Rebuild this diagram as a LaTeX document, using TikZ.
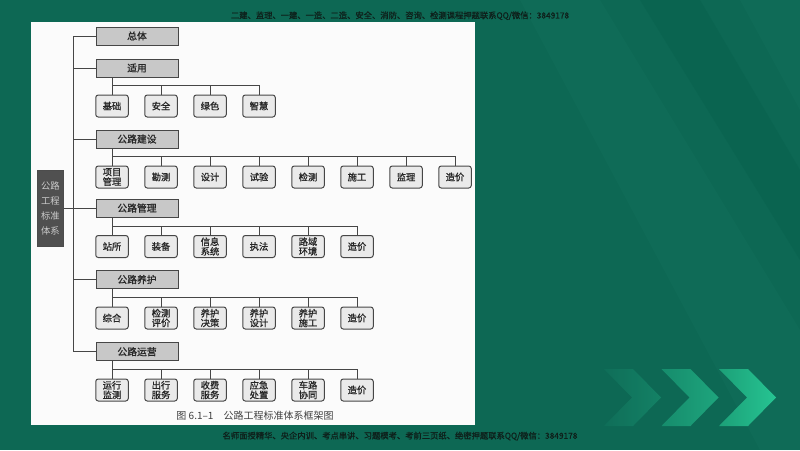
\documentclass[tikz,border=0pt]{standalone}
\usepackage{fontspec}
\setmainfont{Noto Sans CJK SC}
\newfontfamily\boxfont[AutoFakeBold=1.0]{Noto Sans CJK SC}
\newfontfamily\barfont[AutoFakeBold=0.9]{Noto Sans CJK SC}
\definecolor{bgteal}{RGB}{13,104,84}
\definecolor{bandlight}{RGB}{24,118,96}
\definecolor{banddark}{RGB}{6,94,74}
\definecolor{panel}{RGB}{251,251,251}
\definecolor{lvlfill}{RGB}{200,200,200}
\definecolor{childfill}{RGB}{234,234,234}
\definecolor{rootfill}{RGB}{80,80,80}
\definecolor{inkline}{RGB}{70,70,70}
\definecolor{toptext}{RGB}{14,32,27}
\tikzset{
  lvl/.style={draw=inkline, line width=0.9pt, fill=lvlfill, minimum width=82pt, minimum height=18pt, inner sep=0pt, text=black!85, font=\boxfont\fontsize{9.8}{10}\selectfont\bfseries},
  kid/.style={draw=inkline, line width=1pt, fill=childfill, rounded corners=2.5pt, minimum width=32.5pt, minimum height=22pt, inner sep=0pt, align=center, text=black!85, font=\boxfont\fontsize{9.3}{9.6}\selectfont\bfseries},
  rootbox/.style={draw=black!70, line width=0.8pt, fill=rootfill, minimum width=26pt, minimum height=76pt, inner sep=0pt, align=center, text=black!20, font=\boxfont\fontsize{9.3}{15}\selectfont},
  conn/.style={draw=inkline, line width=0.9pt},
  bartext/.style={text=toptext, font=\barfont\fontsize{8.3}{9}\selectfont\bfseries, inner sep=0pt}
}
\begin{document}
\begin{tikzpicture}[x=1pt,y=-1pt]
\useasboundingbox (0,0) rectangle (800,450);
% background
\fill[bgteal] (0,0) rectangle (800,450);
\fill[bandlight, opacity=0.25] (520,0) -- (600,0) -- (800,330) -- (800,450) -- (760,450) -- cycle;
\fill[banddark, opacity=0.35] (640,0) -- (700,0) -- (800,170) -- (800,260) -- cycle;
\fill[bandlight, opacity=0.25] (740,0) -- (800,0) -- (800,110) -- cycle;
% chevrons
\shade[left color={rgb,255:red,16;green,112;blue,90}, right color={rgb,255:red,22;green,136;blue,106}, opacity=0.8]
  (604,369) -- (633,369) -- (661,397.5) -- (633,426) -- (604,426) -- (632,397.5) -- cycle;
\shade[left color={rgb,255:red,22;green,140;blue,108}, right color={rgb,255:red,30;green,165;blue,125}]
  (661.5,369) -- (690.5,369) -- (718.5,397.5) -- (690.5,426) -- (661.5,426) -- (689.5,397.5) -- cycle;
\shade[left color={rgb,255:red,28;green,160;blue,120}, right color={rgb,255:red,38;green,196;blue,146}]
  (719,369) -- (748,369) -- (776,397.5) -- (748,426) -- (719,426) -- (747,397.5) -- cycle;
% header / footer text
\node[bartext] (toptxt) at (400,15.7) {二建、监理、一建、一造、二造、安全、消防、咨询、检测课程押题联系QQ/微信：3849178};
\node[bartext] (bottxt) at (400,436) {名师面授精华、央企内训、考点串讲、习题模考、考前三页纸、绝密押题联系QQ/微信：3849178};
% panel
\fill[panel] (31,22) rectangle (475,425);
% root
\node[rootbox] (root) at (50.3,208) {公路\\工程\\标准\\体系};
% level 1
\node[lvl] (zt) at (137,36) {总体};
\node[lvl] (sy) at (137,68) {适用};
\node[lvl] (js) at (137,139) {公路建设};
\node[lvl] (gl) at (137,208) {公路管理};
\node[lvl] (yh) at (137,279.5) {公路养护};
\node[lvl] (yy) at (137,351.7) {公路运营};
% children
\foreach \t [count=\i] in {基础,安全,绿色,智慧}
  \node[kid] (sy\i) at ({112+49*(\i-1)},106) {\t};
\foreach \t [count=\i] in {{项目\\管理},勘测,设计,试验,检测,施工,监理,造价}
  \node[kid] (js\i) at ({112+49*(\i-1)},177) {\t};
\foreach \t [count=\i] in {站所,装备,{信息\\系统},执法,{路域\\环境},造价}
  \node[kid] (gl\i) at ({112+49*(\i-1)},246.5) {\t};
\foreach \t [count=\i] in {综合,{检测\\评价},{养护\\决策},{养护\\设计},{养护\\施工},造价}
  \node[kid] (yh\i) at ({112+49*(\i-1)},318) {\t};
\foreach \t [count=\i] in {{运行\\监测},{出行\\服务},{收费\\服务},{应急\\处置},{车路\\协同},造价}
  \node[kid] (yy\i) at ({112+49*(\i-1)},390) {\t};
% trunk
\coordinate (trunk) at (73,0);
\draw[conn] (zt.west) -| (trunk |- yy.west) -- (yy.west);
\foreach \p in {sy,js,gl,yh}
  \draw[conn] (\p.west) -- (\p.west -| trunk);
\draw[conn] (root.east) -- (gl.west);
% buses
\foreach \p/\n in {sy/4,js/8,gl/6,yh/6,yy/6}{
  \draw[conn] (\p.south -| \p1.north) -- (\p1.north);
  \foreach \i in {1,...,\n}
    \draw[conn] (\p1.north) ++(0,-9) -| (\p\i.north);
}
% caption
\node[inner sep=0pt, text=black!75, font=\fontsize{10}{11}\selectfont] (cap) at (255,416) {图 6.1–1\quad 公路工程标准体系框架图};
\end{tikzpicture}
\end{document}
